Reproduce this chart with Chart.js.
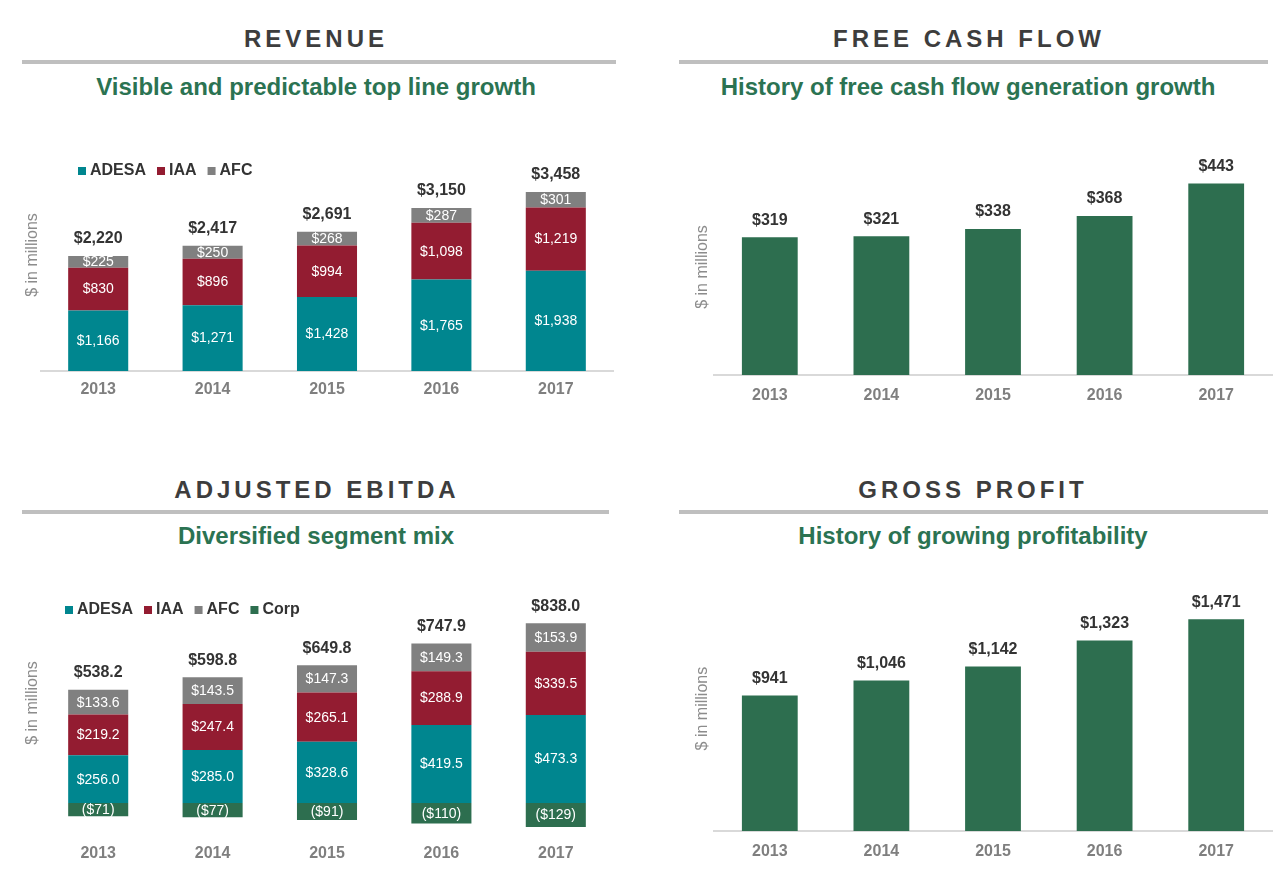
<!DOCTYPE html>
<html><head><meta charset="utf-8">
<script src="https://cdn.jsdelivr.net/npm/chart.js@4.4.0/dist/chart.umd.min.js"></script>
<style>
html,body{margin:0;padding:0;background:#fff;}
#page{position:relative;width:1276px;height:877px;overflow:hidden;font-family:'Liberation Sans',Arial,sans-serif;background:#fff;}
.hdr{position:absolute;width:600px;height:30px;line-height:30px;text-align:center;font-weight:bold;font-size:24px;letter-spacing:4px;padding-left:4px;box-sizing:border-box;color:#3d3d3d;white-space:nowrap;}
.sub{position:absolute;width:600px;height:30px;line-height:30px;text-align:center;font-weight:bold;font-size:24px;color:#2b7352;white-space:nowrap;}
.rule{position:absolute;height:4px;background:#bfbfbf;}
canvas{position:absolute;}
</style></head>
<body>
<div id="page">
  <div class="hdr" style="left:14px;top:24px;">REVENUE</div>
  <div class="rule" style="left:22px;width:594px;top:60px;"></div>
  <div class="sub" style="left:16px;top:72px;">Visible and predictable top line growth</div>

  <div class="hdr" style="left:667px;top:24px;">FREE CASH FLOW</div>
  <div class="rule" style="left:679px;width:589px;top:60px;"></div>
  <div class="sub" style="left:668px;top:72px;">History of free cash flow generation growth</div>

  <div class="hdr" style="left:15px;top:475px;">ADJUSTED EBITDA</div>
  <div class="rule" style="left:22px;width:587px;top:510px;"></div>
  <div class="sub" style="left:16px;top:521px;">Diversified segment mix</div>

  <div class="hdr" style="left:671px;top:475px;">GROSS PROFIT</div>
  <div class="rule" style="left:679px;width:589px;top:510px;"></div>
  <div class="sub" style="left:673px;top:521px;">History of growing profitability</div>

  <canvas id="rev" width="640" height="310" style="left:0px;top:110px;"></canvas>
  <canvas id="fcf" width="616" height="310" style="left:660px;top:110px;"></canvas>
  <canvas id="ebitda" width="640" height="322" style="left:0px;top:555px;"></canvas>
  <canvas id="gp" width="616" height="317" style="left:660px;top:560px;"></canvas>
</div>
<script>
// ---------- DATA ----------
const years = ['2013', '2014', '2015', '2016', '2017'];

const revAdesa = [1166, 1271, 1428, 1765, 1938];
const revIaa   = [830, 896, 994, 1098, 1219];
const revAfc   = [225, 250, 268, 287, 301];
const revTotal = [2220, 2417, 2691, 3150, 3458];

const fcfValues = [319, 321, 338, 368, 443];

const ebAdesa = [256.0, 285.0, 328.6, 419.5, 473.3];
const ebIaa   = [219.2, 247.4, 265.1, 288.9, 339.5];
const ebAfc   = [133.6, 143.5, 147.3, 149.3, 153.9];
const ebCorp  = [-71, -77, -91, -110, -129];
const ebTotal = [538.2, 598.8, 649.8, 747.9, 838.0];

const gpValues = [941, 1046, 1142, 1323, 1471];

// ---------- STYLE ----------
const COL = { adesa: '#00868f', iaa: '#931c31', afc: '#808080', corp: '#2d6e4f', green: '#2d6e4f' };
const FONT = "'Liberation Sans', Arial, sans-serif";
Chart.defaults.font.family = FONT;
Chart.defaults.animation = false;

const fmtInt = v => '$' + Math.round(v).toLocaleString('en-US');
const fmtDec = v => v < 0 ? '($' + Math.abs(Math.round(v)) + ')' : '$' + v.toFixed(1);

const valueLabels = {
  id: 'valueLabels',
  afterDatasetsDraw(chart, args, opts) {
    const ctx = chart.ctx;
    ctx.save();
    ctx.textAlign = 'center';
    ctx.textBaseline = 'middle';
    if (opts.inside) {
      ctx.font = '14px ' + FONT;
      ctx.fillStyle = '#ffffff';
      chart.data.datasets.forEach((ds, di) => {
        const meta = chart.getDatasetMeta(di);
        meta.data.forEach((bar, i) => {
          ctx.fillText(opts.format(ds.data[i]), bar.x, (bar.y + bar.base) / 2 + 0.5);
        });
      });
    }
    if (opts.totals) {
      ctx.font = 'bold 16px ' + FONT;
      ctx.fillStyle = '#333333';
      opts.totals.forEach((t, i) => {
        let top = Infinity, x = 0;
        chart.data.datasets.forEach((ds, di) => {
          const b = chart.getDatasetMeta(di).data[i];
          top = Math.min(top, b.y, b.base);
          x = b.x;
        });
        ctx.fillText(opts.totalFormat(t), x, top - 17);
      });
    }
    ctx.restore();
  }
};

const boxLegend = {
  id: 'boxLegend',
  afterDraw(chart, args, opts) {
    if (!opts.show) return;
    const ctx = chart.ctx;
    ctx.save();
    ctx.font = 'bold 16px ' + FONT;
    ctx.textBaseline = 'middle';
    ctx.textAlign = 'left';
    let x = opts.x;
    const y = opts.y;
    chart.data.datasets.forEach(ds => {
      ctx.fillStyle = ds.backgroundColor;
      ctx.fillRect(x, y - 4, 8, 8);
      x += 12;
      ctx.fillStyle = '#333333';
      ctx.fillText(ds.label, x, y);
      x += ctx.measureText(ds.label).width + 11;
    });
    ctx.restore();
  }
};

function xAxis(pad, border) {
  return {
    stacked: true, offset: true,
    grid: { display: false, drawTicks: false },
    border: { display: border, color: '#d9d9d9', width: 2 },
    ticks: { padding: pad, color: '#7f7f7f', font: { size: 16, weight: 'bold' } }
  };
}
function yAxis(min, max, b) {
  return {
    stacked: true, min: min, max: max,
    grid: { display: false, drawTicks: false },
    border: { display: false },
    ticks: { display: false },
    title: { display: true, text: '$ in millions', color: '#8c8c8c',
             font: { size: 16, lineHeight: 1 }, padding: { top: 4, bottom: b } }
  };
}
function baseOptions(padding, x, y, labelOpts, legendOpts) {
  return {
    responsive: false,
    animation: false,
    layout: { padding: padding },
    plugins: {
      legend: { display: false },
      tooltip: { enabled: false },
      valueLabels: labelOpts,
      boxLegend: legendOpts
    },
    scales: { x: x, y: y }
  };
}

// ---------- REVENUE ----------
new Chart(document.getElementById('rev'), {
  type: 'bar',
  data: {
    labels: years,
    datasets: [
      { label: 'ADESA', data: revAdesa, backgroundColor: COL.adesa },
      { label: 'IAA', data: revIaa, backgroundColor: COL.iaa },
      { label: 'AFC', data: revAfc, backgroundColor: COL.afc }
    ].map(d => Object.assign(d, { categoryPercentage: 1, barPercentage: 0.525, borderWidth: 0 }))
  },
  options: baseOptions({ left: 21, right: 27, top: 29, bottom: 11.8 },
    xAxis(9, true), yAxis(0, 4480, 0),
    { inside: true, format: fmtInt, totals: revTotal, totalFormat: fmtInt },
    { show: true, x: 78, y: 61 }),
  plugins: [valueLabels, boxLegend]
});

// ---------- FREE CASH FLOW ----------
new Chart(document.getElementById('fcf'), {
  type: 'bar',
  data: {
    labels: years,
    datasets: [{ label: 'Free cash flow', data: fcfValues, backgroundColor: COL.green,
                 categoryPercentage: 1, barPercentage: 0.5, borderWidth: 0 }]
  },
  options: baseOptions({ left: 30.5, right: 4, top: 49, bottom: 3.8 },
    xAxis(11, true), yAxis(0, 500, 3.5),
    { inside: false, totals: fcfValues, totalFormat: fmtInt },
    { show: false }),
  plugins: [valueLabels, boxLegend]
});

// ---------- ADJUSTED EBITDA ----------
new Chart(document.getElementById('ebitda'), {
  type: 'bar',
  data: {
    labels: years,
    datasets: [
      { label: 'ADESA', data: ebAdesa, backgroundColor: COL.adesa },
      { label: 'IAA', data: ebIaa, backgroundColor: COL.iaa },
      { label: 'AFC', data: ebAfc, backgroundColor: COL.afc },
      { label: 'Corp', data: ebCorp, backgroundColor: COL.corp }
    ].map(d => Object.assign(d, { categoryPercentage: 1, barPercentage: 0.525, borderWidth: 0 }))
  },
  options: baseOptions({ left: 21, right: 27, top: 20.1, bottom: 0.9 },
    xAxis(13, false), yAxis(-150, 1225, 0),
    { inside: true, format: fmtDec, totals: ebTotal, totalFormat: v => '$' + v.toFixed(1) },
    { show: true, x: 65, y: 55 }),
  plugins: [valueLabels, boxLegend]
});

// ---------- GROSS PROFIT ----------
new Chart(document.getElementById('gp'), {
  type: 'bar',
  data: {
    labels: years,
    datasets: [{ label: 'Gross profit', data: gpValues, backgroundColor: COL.green,
                 categoryPercentage: 1, barPercentage: 0.5, borderWidth: 0 }]
  },
  options: baseOptions({ left: 30.5, right: 4, top: 26.2, bottom: 4.8 },
    xAxis(11, true), yAxis(0, 1700, 3.5),
    { inside: false, totals: gpValues, totalFormat: fmtInt },
    { show: false }),
  plugins: [valueLabels, boxLegend]
});
</script>
</body></html>
